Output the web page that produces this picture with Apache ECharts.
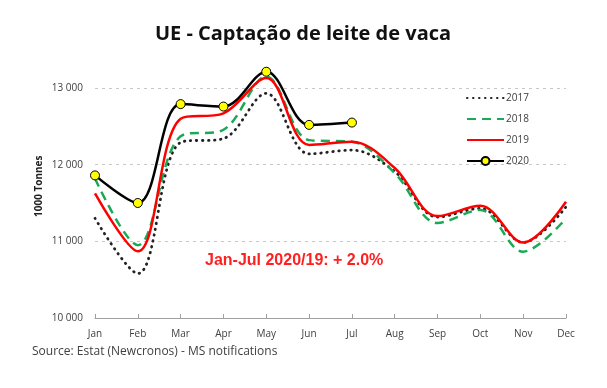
<!DOCTYPE html>
<html><head><meta charset="utf-8">
<script src="https://cdn.jsdelivr.net/npm/echarts@6/dist/echarts.min.js"></script>
<style>html,body{margin:0;padding:0;background:#fff}#c{width:607px;height:388px}</style>
</head><body><div id="c"></div>
<script>
const months = ['Jan','Feb','Mar','Apr','May','Jun','Jul','Aug','Sep','Oct','Nov','Dec'];
const y2017 = [11300,10580,12290,12340,12930,12140,12190,11910,11316,11430,10985,11450];
const y2018 = [11820,10950,12370,12455,13150,12320,12300,11890,11240,11410,10865,11300];
const y2019 = [11626,10870,12600,12670,13129,12258,12300,11957,11329,11464,10985,11516];
const y2020 = [11860,11500,12790,12758,13212,12519,12549];
const yTicks = [10000,11000,12000,13000];

const SM = 0.35;
const chart = echarts.init(document.getElementById('c'), null, {renderer:'canvas'});
const hideSym = {opacity:0};
chart.setOption({
  backgroundColor:'#fff',
  animation:false,
  title:{text:'UE - Captação de leite de vaca',left:298,top:19,textAlign:'center',
    textStyle:{fontFamily:'Open Sans',fontSize:20,fontWeight:'bold',color:'#111'}},
  legend:{orient:'vertical',left:461,top:88,itemWidth:37,itemHeight:10,itemGap:11,
    textStyle:{fontFamily:'Open Sans',fontSize:10,color:'#404040',padding:[0,0,0,-3]},
    data:[{name:'2017',itemStyle:hideSym},{name:'2018',itemStyle:hideSym},{name:'2019',itemStyle:hideSym},'2020']},
  grid:{left:95,right:41,top:88,bottom:70},
  xAxis:{type:'category',data:months,boundaryGap:false,
    axisLine:{lineStyle:{color:'#a0a0a0',width:1}},
    axisTick:{show:true,alignWithLabel:true,length:-4,lineStyle:{color:'#a0a0a0'}},
    axisLabel:{fontFamily:'Open Sans',fontSize:10,color:'#404040',margin:11},
    splitLine:{show:false}},
  yAxis:{type:'value',min:yTicks[0],max:yTicks[yTicks.length-1],interval:1000,
    axisLine:{show:false},axisTick:{show:false},
    axisLabel:{fontFamily:'Open Sans',fontSize:10,color:'#404040',margin:12,
      formatter:v=>String(v).replace(/\B(?=(\d{3})+(?!\d))/g,' ')},
    splitLine:{show:true,lineStyle:{color:'#c8c8c8',type:[3,4],width:1}}},
  graphic:[
    {type:'text',x:34,y:217,rotation:Math.PI/2,style:{text:'1000 Tonnes',fill:'#222',
      font:'bold 10px "Open Sans"'}},
    {type:'text',left:205,top:253,style:{text:'Jan-Jul 2020/19: + 2.0%',fill:'#ff2020',
      font:'bold 16px Arial'}},
    {type:'text',left:32,top:346,style:{text:'Source: Estat (Newcronos) - MS notifications',fill:'#404040',
      font:'12px "Open Sans"'}}
  ],
  series:[
    {name:'2017',type:'line',data:y2017,smooth:SM,symbol:'none',clip:false,
      lineStyle:{color:'#222',width:2.8,type:[0.5,5.5],cap:'round'},itemStyle:{color:'#222'}},
    {name:'2018',type:'line',data:y2018,smooth:SM,symbol:'none',clip:false,
      lineStyle:{color:'#1aaa55',width:2.5,type:[9,6]},itemStyle:{color:'#1aaa55'}},
    {name:'2019',type:'line',data:y2019,smooth:SM,symbol:'none',clip:false,
      lineStyle:{color:'#ff0000',width:2.5},itemStyle:{color:'#ff0000'}},
    {name:'2020',type:'line',data:y2020,smooth:SM,symbol:'circle',symbolSize:9,clip:false,
      lineStyle:{color:'#000',width:2.5},
      itemStyle:{color:'#ffff00',borderColor:'#000',borderWidth:1}}
  ]
});
</script></body></html>
